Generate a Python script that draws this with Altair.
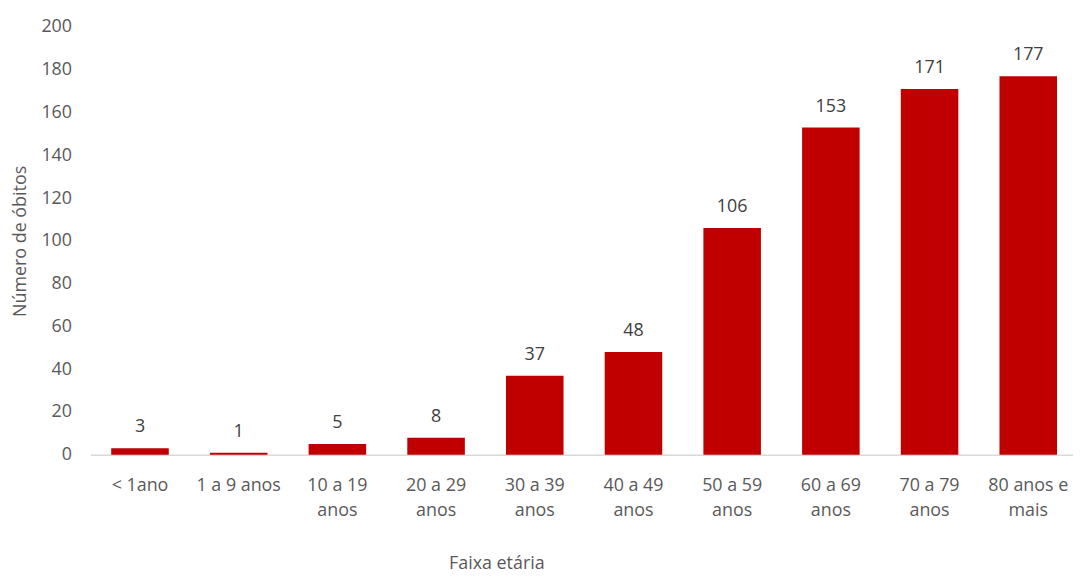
import altair as alt
import pandas as pd

categories = ["< 1ano", "1 a 9 anos", "10 a 19|anos", "20 a 29|anos", "30 a 39|anos",
              "40 a 49|anos", "50 a 59|anos", "60 a 69|anos", "70 a 79|anos", "80 anos e|mais"]
obitos = [3, 1, 5, 8, 37, 48, 106, 153, 171, 177]
y_ticks = [0, 20, 40, 60, 80, 100, 120, 140, 160, 180, 200]

df = pd.DataFrame({"faixa": categories, "obitos": obitos})

FONT = "Open Sans"
TXT = "#595959"
FS = 18

x = alt.X("faixa:N", sort=categories, title="Faixa etária",
          scale=alt.Scale(paddingInner=0.417, paddingOuter=0.1865, align=0.566),
          axis=alt.Axis(labelAngle=0, labelExpr="split(datum.label, '|')",
                        labelFontSize=FS, labelColor=TXT, labelFont=FONT,
                        labelPadding=22, labelLineHeight=25, ticks=False,
                        labelBaseline="top",
                        domainColor="#D9D9D9", domainWidth=1.5,
                        titleFontSize=FS, titleFont=FONT, titleColor=TXT,
                        titleFontWeight="normal", titleX=409, titleY=110,
                        titleBaseline="middle", titleAlign="center"))
y = alt.Y("obitos:Q", title="Número de óbitos",
          scale=alt.Scale(domain=[0, 200], nice=False),
          axis=alt.Axis(values=y_ticks, grid=False, domain=False, ticks=False,
                        labelFontSize=FS, labelColor=TXT, labelFont=FONT,
                        labelPadding=19, titleFontSize=FS, titleFont=FONT,
                        titleColor=TXT, titleFontWeight="normal",
                        titleX=-70, titleY=215.5, titleBaseline="middle",
                        titleAlign="center", titleAngle=270))

bars = alt.Chart(df).mark_bar(color="#C00000").encode(x=x, y=y)
labels = alt.Chart(df).mark_text(baseline="alphabetic", dy=-16, fontSize=FS,
                                 font=FONT, color="#404040").encode(
    x=alt.X("faixa:N", sort=categories), y="obitos:Q", text="obitos:Q")

chart = (bars + labels).properties(
    width=990, height=431,
    autosize=alt.AutoSizeParams(type="none"),
    padding={"left": 83, "top": 17, "right": 0, "bottom": 120},
).configure(background="white").configure_view(stroke=None)

chart.save("out.html", embed_options={"renderer": "svg", "actions": False})
